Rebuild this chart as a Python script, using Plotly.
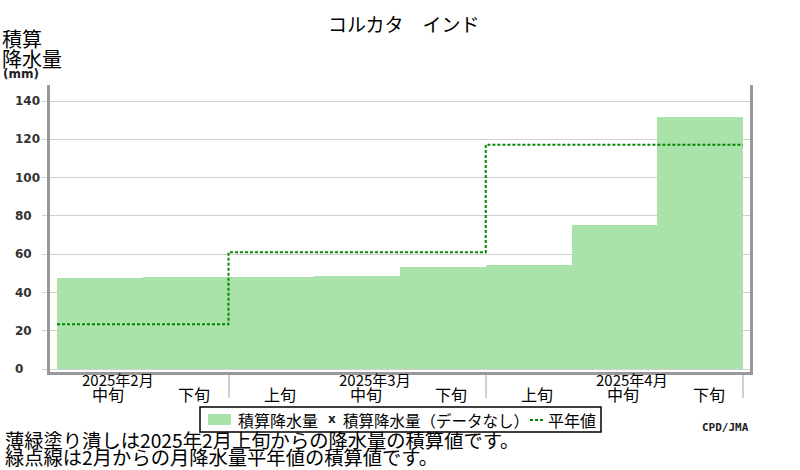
import plotly.graph_objects as go

# data
months = ["2025年2月", "2025年3月", "2025年4月"]
decades = ["中旬", "下旬", "上旬", "中旬", "下旬", "上旬", "中旬", "下旬"]
bar_month = [0, 0, 1, 1, 1, 2, 2, 2]
precip_cum = [47.7, 48.2, 48.2, 48.7, 53.3, 54.3, 75.2, 131.7]
normal_cum = [23.5, 61.1, 117.2]
yticks = [0, 20, 40, 60, 80, 100, 120, 140]

W, H = 800, 470
L, R, T, B = 50, 50, 85, 98
FONT = "Noto Sans CJK JP"
BAR_COLOR = "#aae3aa"
GREEN = "#008800"


def px(x):
    return (x - L) / (W - L - R)


def py(y):
    return (H - B - y) / (H - T - B)


xs = list(range(len(precip_cum)))

# month boundaries for the step line of normals
starts = [bar_month.index(m) - 0.5 for m in range(len(months))]
step_x = starts + [len(xs) - 0.5]
step_y = normal_cum + [normal_cum[-1]]

fig = go.Figure()
fig.add_trace(go.Bar(
    x=xs, y=precip_cum, width=1,
    marker=dict(color=BAR_COLOR, line=dict(width=0)),
    showlegend=False,
))
fig.add_trace(go.Scatter(
    x=step_x, y=step_y, mode="lines", line_shape="hv",
    line=dict(color=GREEN, width=2, dash="3px,2px"),
    showlegend=False,
))

pad = 7 / 85.75
fig.update_xaxes(
    range=[-0.5 - pad, len(xs) - 0.5 + pad],
    showgrid=False, zeroline=False,
    showline=True, linecolor="#999", linewidth=3,
    tickvals=starts[1:] + [len(xs) - 0.5],
    ticks="outside", ticklen=23, tickcolor="#d0d0d0", tickwidth=2,
    showticklabels=False,
)
fig.update_yaxes(
    range=[-1.4, 148.35],
    tickvals=yticks, showticklabels=False,
    showgrid=True, gridcolor="#d0d0d0", gridwidth=1, zeroline=False,
    showline=True, mirror=True, linecolor="#999", linewidth=3,
    ticks="outside", ticklen=5, tickcolor="#d0d0d0",
)

ann = []
# y tick labels, left aligned
for v in yticks:
    ann.append(dict(x=px(13), y=v, xref="paper", yref="y", text=str(v),
                    xanchor="left", yanchor="middle", showarrow=False,
                    font=dict(family="DejaVu Sans", size=12, color="#333", weight="bold")))
# decade labels
for i, d in enumerate(decades):
    ann.append(dict(x=i + 0.1, y=0, xref="x", yref="paper", yshift=-22, text=d,
                    xanchor="center", yanchor="middle", showarrow=False,
                    font=dict(family=FONT, size=16, color="#000")))
# month labels sit over the 中旬 bar of each month
for m, name in enumerate(months):
    i = decades.index("中旬", bar_month.index(m))
    ann.append(dict(x=i + 0.21, y=0, xref="x", yref="paper", yshift=-7, text=name,
                    xanchor="center", yanchor="middle", showarrow=False,
                    font=dict(family=FONT, size=15, color="#000")))

texts = [
    (px(404), py(24), "コルカタ　インド", "center", 19, FONT, "normal"),
    (px(0), py(39), "積算", "left", 20, FONT, "normal"),
    (px(0), py(58), "降水量", "left", 20, FONT, "normal"),
    (px(1), py(74), "(mm)", "left", 12, "DejaVu Sans", "bold"),
    (px(236), py(420), "積算降水量", "left", 16, FONT, "normal"),
    (px(326), py(419), "x", "left", 12, "DejaVu Sans", "bold"),
    (px(341), py(420), "積算降水量（データなし）", "left", 15.5, FONT, "normal"),
    (px(546), py(420), "平年値", "left", 16, FONT, "normal"),
    (px(3), py(440), "薄緑塗り潰しは2025年2月上旬からの降水量の積算値です。", "left", 19.3, FONT, "normal"),
    (px(3), py(456.5), "緑点線は2月からの月降水量平年値の積算値です。", "left", 19.3, FONT, "normal"),
    (px(700), py(427), "CPD/JMA", "left", 11, "DejaVu Sans Mono", "bold"),
]
for x, y, t, anchor, size, fam, wt in texts:
    ann.append(dict(x=x, y=y, xref="paper", yref="paper", text=t,
                    xanchor=anchor, yanchor="middle", showarrow=False,
                    font=dict(family=fam, size=size, color="#000" if fam == FONT else "#222", weight=wt)))

shapes = [
    dict(type="rect", xref="paper", yref="paper", x0=px(200), x1=px(601), y0=py(432), y1=py(407),
         line=dict(color="#000", width=1.5)),
    dict(type="rect", xref="paper", yref="paper", x0=px(208), x1=px(231), y0=py(425), y1=py(414),
         fillcolor=BAR_COLOR, line=dict(width=0)),
    dict(type="line", xref="paper", yref="paper", x0=px(530), x1=px(543), y0=py(420), y1=py(420),
         line=dict(color=GREEN, width=2, dash="3px,2px")),
]

fig.update_layout(
    width=W, height=H,
    margin=dict(l=L, r=R, t=T, b=B),
    paper_bgcolor="white", plot_bgcolor="white",
    font=dict(family=FONT),
    bargap=0, showlegend=False,
    annotations=ann, shapes=shapes,
)

# drop the default page margin so the figure sits at the window corner
fig.write_html("out.html", config={"displayModeBar": False},
               post_script="document.body.style.margin='0';")
